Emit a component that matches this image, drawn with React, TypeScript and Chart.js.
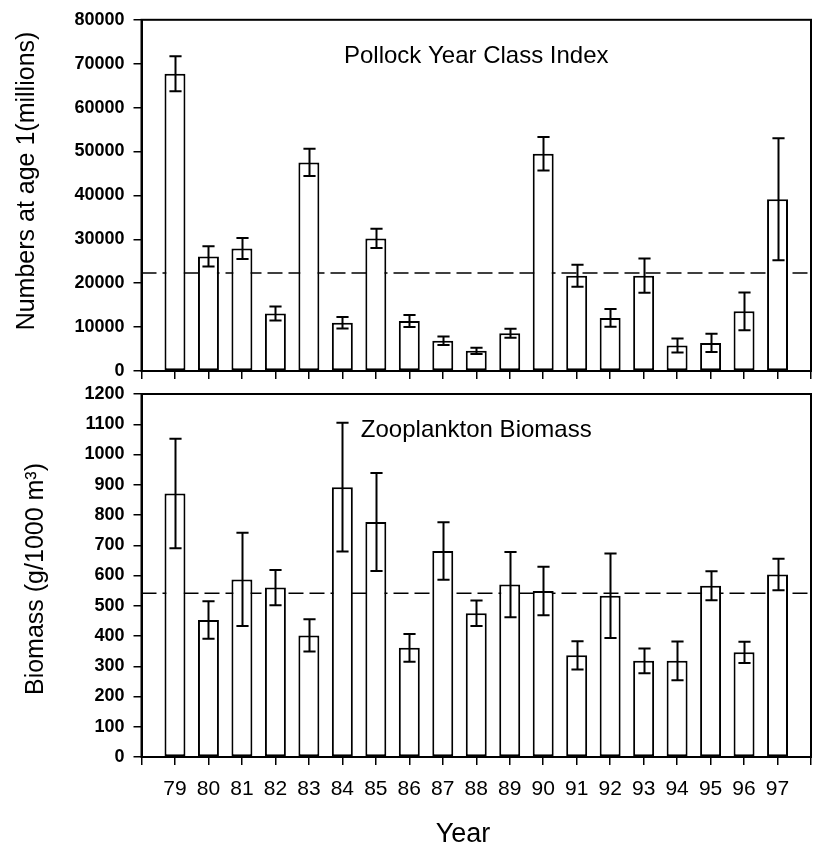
import { useEffect, useRef } from 'react';
import { Chart, registerables } from 'chart.js';

Chart.register(...registerables);

// ---------- data ----------
const years = ['79', '80', '81', '82', '83', '84', '85', '86', '87', '88', '89', '90', '91', '92', '93', '94', '95', '96', '97'];

const pollockValues = [67700, 26100, 27900, 13100, 47500, 11000, 30200, 11400, 6900, 4600, 8600, 49500, 21700, 12100, 21700, 5800, 6400, 13600, 39100];
const pollockErrors = [4000, 2300, 2400, 1600, 3100, 1300, 2200, 1350, 950, 700, 1050, 3800, 2500, 2000, 3900, 1600, 2100, 4300, 13900];
const pollockMean = 22300;
const pollockTitle = 'Pollock Year Class Index';
const pollockYLabel = 'Numbers at age 1(millions)';
const pollockYMax = 80000;
const pollockYStep = 10000;

const zooValues = [871, 453, 587, 560, 402, 892, 777, 361, 681, 475, 570, 549, 336, 533, 318, 318, 566, 346, 603];
const zooErrors = [181, 62, 154, 58, 53, 213, 162, 46, 95, 42, 108, 80, 47, 140, 41, 64, 48, 35, 52];
const zooMean = 541;
const zooTitle = 'Zooplankton Biomass';
const zooYLabel = 'Biomass (g/1000 m³)';
const zooYMax = 1200;
const zooYStep = 100;

const xTitle = 'Year';

// ---------- layout ----------
const W = 814;
const H = 848;
const FONT = '"Liberation Sans", Arial, Helvetica, sans-serif';

const decorPlugin = {
  id: 'panelDecor',
  beforeDatasetsDraw(chart: any, _args: any, opts: any) {
    const { ctx, chartArea, scales } = chart;
    const y = scales.y.getPixelForValue(opts.mean);
    ctx.save();
    ctx.strokeStyle = '#000';
    ctx.lineWidth = 1.5;
    ctx.setLineDash([15, 6]);
    ctx.beginPath();
    ctx.moveTo(chartArea.left, y);
    ctx.lineTo(chartArea.right, y);
    ctx.stroke();
    ctx.restore();
  },
  afterDatasetsDraw(chart: any, _args: any, opts: any) {
    const { ctx, chartArea, scales } = chart;
    const ys = scales.y;
    const meta = chart.getDatasetMeta(0);
    const data = chart.data.datasets[0].data;
    const errs = opts.errors;
    ctx.save();
    ctx.strokeStyle = '#000';
    ctx.lineWidth = 2;
    ctx.setLineDash([]);
    meta.data.forEach((el: any, i: number) => {
      const v = data[i];
      const e = errs[i];
      if (v == null || e == null) return;
      const x = Math.round(el.x) + 0.5;
      const t = ys.getPixelForValue(v + e);
      const b = ys.getPixelForValue(v - e);
      const cap = el.width * 0.29;
      ctx.beginPath();
      ctx.moveTo(x, t);
      ctx.lineTo(x, b);
      ctx.moveTo(x - cap, t);
      ctx.lineTo(x + cap, t);
      ctx.moveTo(x - cap, b);
      ctx.lineTo(x + cap, b);
      ctx.stroke();
    });
    // frame
    ctx.lineWidth = 2;
    ctx.strokeRect(chartArea.left, chartArea.top, chartArea.right - chartArea.left, chartArea.bottom - chartArea.top);
    ctx.restore();
  },
  afterDraw(chart: any, _args: any, opts: any) {
    const { ctx, chartArea } = chart;
    ctx.save();
    ctx.fillStyle = '#000';
    // panel title
    ctx.font = `24px ${FONT}`;
    ctx.textAlign = 'center';
    ctx.textBaseline = 'alphabetic';
    ctx.fillText(opts.title, (chartArea.left + chartArea.right) / 2, chartArea.top + opts.titleOffset);
    // y-axis title
    ctx.font = `25px ${FONT}`;
    ctx.translate(opts.yTitleX, opts.yTitleY);
    ctx.rotate(-Math.PI / 2);
    ctx.fillText(opts.yLabel, 0, 0);
    ctx.restore();
    if (opts.xLabel) {
      ctx.save();
      ctx.fillStyle = '#000';
      ctx.font = `27px ${FONT}`;
      ctx.textAlign = 'center';
      ctx.textBaseline = 'alphabetic';
      ctx.fillText(opts.xLabel, opts.xTitleX, opts.xTitleY);
      ctx.restore();
    }
  },
};

function makeConfig(p: any): any {
  const axisLabels = ['', ...years, ''];
  const values = [null, ...p.values, null];
  const errors = [null, ...p.errors, null];
  return {
    type: 'bar',
    data: {
      labels: axisLabels,
      datasets: [
        {
          data: values,
          backgroundColor: '#fff',
          borderColor: '#000',
          borderWidth: 2,
          borderSkipped: false,
          categoryPercentage: 1,
          barPercentage: 0.626,
        },
      ],
    },
    plugins: [decorPlugin],
    options: {
      animation: false,
      responsive: false,
      events: [],
      layout: { padding: { left: 0, right: 3, top: p.padTop, bottom: p.padBottom } },
      plugins: {
        legend: { display: false },
        tooltip: { enabled: false },
        panelDecor: {
          mean: p.mean,
          errors,
          title: p.title,
          titleOffset: p.titleOffset,
          yLabel: p.yLabel,
          yTitleX: p.yTitleX,
          yTitleY: p.yTitleY,
          xLabel: p.xLabel,
          xTitleX: 463,
          xTitleY: 842,
        },
      },
      scales: {
        x: {
          type: 'category',
          offset: false,
          grid: {
            offset: false,
            display: true,
            drawOnChartArea: false,
            drawTicks: true,
            tickLength: 8,
            color: '#000',
            lineWidth: 1.5,
          },
          border: { display: true, color: '#000', width: 2 },
          ticks: {
            display: p.showXLabels,
            autoSkip: false,
            maxRotation: 0,
            minRotation: 0,
            padding: 12,
            color: '#000',
            font: { family: FONT, size: 21 },
          },
          afterFit: (scale: any) => {
            scale.height = p.xAxisHeight;
            scale.paddingLeft = 0;
            scale.paddingRight = 0;
          },
        },
        y: {
          min: 0,
          max: p.yMax,
          grid: {
            display: true,
            drawOnChartArea: false,
            drawTicks: true,
            tickLength: 8,
            color: '#000',
            lineWidth: 1.5,
          },
          border: { display: true, color: '#000', width: 2 },
          ticks: {
            stepSize: p.yStep,
            padding: 9,
            color: '#000',
            font: { family: FONT, size: 18, weight: 'bold' },
            callback: (v: any) => String(v),
          },
          afterFit: (scale: any) => {
            scale.width = 141.5;
          },
        },
      },
    },
  };
}

export default function App() {
  const topRef = useRef<HTMLCanvasElement | null>(null);
  const botRef = useRef<HTMLCanvasElement | null>(null);

  useEffect(() => {
    Chart.defaults.font.family = FONT;
    Chart.defaults.color = '#000';
    const top = new Chart(
      topRef.current as HTMLCanvasElement,
      makeConfig({
        values: pollockValues,
        errors: pollockErrors,
        mean: pollockMean,
        title: pollockTitle,
        titleOffset: 43,
        yLabel: pollockYLabel,
        yTitleX: 34,
        yTitleY: 181,
        yMax: pollockYMax,
        yStep: pollockYStep,
        padTop: 19,
        padBottom: H - 371 - 10,
        xAxisHeight: 10,
        showXLabels: false,
        xLabel: null,
      })
    );
    const bot = new Chart(
      botRef.current as HTMLCanvasElement,
      makeConfig({
        values: zooValues,
        errors: zooErrors,
        mean: zooMean,
        title: zooTitle,
        titleOffset: 43,
        yLabel: zooYLabel,
        yTitleX: 43,
        yTitleY: 579,
        yMax: zooYMax,
        yStep: zooYStep,
        padTop: 394,
        padBottom: 0,
        xAxisHeight: H - 757,
        showXLabels: true,
        xLabel: xTitle,
      })
    );
    return () => {
      top.destroy();
      bot.destroy();
    };
  }, []);

  const canvasStyle: any = { position: 'absolute', left: 0, top: 0, width: W, height: H };
  return (
    <div style={{ position: 'fixed', left: 0, top: 0, width: W, height: H, background: '#fff' }}>
      <canvas ref={topRef} width={W} height={H} style={canvasStyle} />
      <canvas ref={botRef} width={W} height={H} style={canvasStyle} />
    </div>
  );
}
